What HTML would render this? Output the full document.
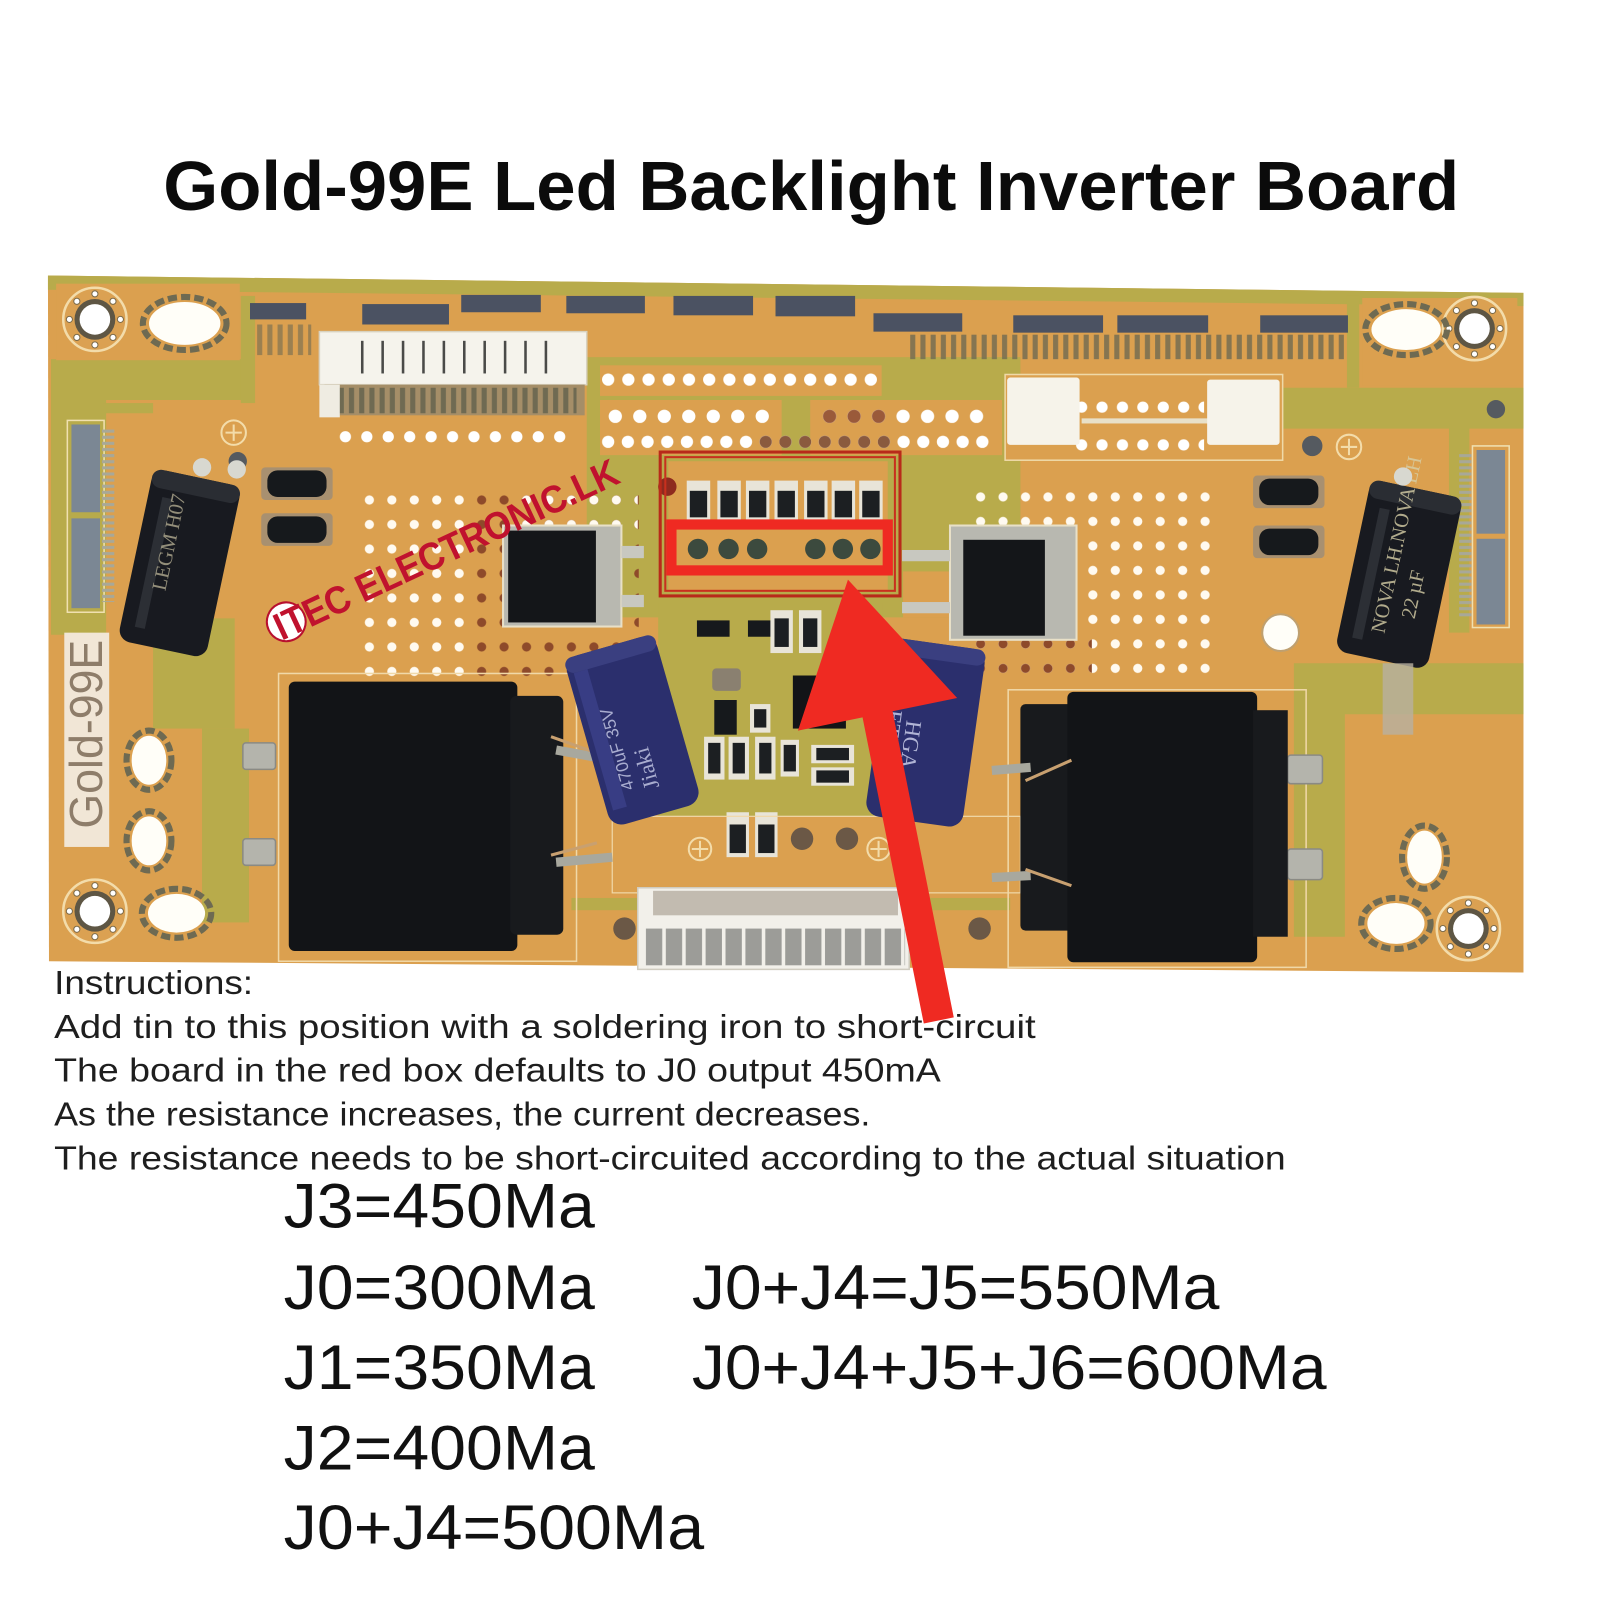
<!DOCTYPE html>
<html><head><meta charset="utf-8"><style>html,body{margin:0;padding:0;background:#fff}svg{display:block}</style></head>
<body>
<svg xmlns="http://www.w3.org/2000/svg" width="1600" height="1600" viewBox="0 0 1568 1568">
<defs>
 <pattern id="pw1" x="351" y="478" width="22" height="24" patternUnits="userSpaceOnUse"><circle cx="11" cy="12" r="4.5" fill="#fffaf0"/></pattern>
 <pattern id="pb1" x="351" y="478" width="22" height="24" patternUnits="userSpaceOnUse"><circle cx="11" cy="12" r="4.5" fill="#8e4a2a"/></pattern>
 <pattern id="pw2" x="950" y="475" width="22" height="24" patternUnits="userSpaceOnUse"><circle cx="11" cy="12" r="4.5" fill="#fffaf0"/></pattern>
 <pattern id="pb2" x="950" y="475" width="22" height="24" patternUnits="userSpaceOnUse"><circle cx="11" cy="12" r="4.5" fill="#8e4a2a"/></pattern>
 <pattern id="rowA" x="586.1" y="362" width="19.8" height="20" patternUnits="userSpaceOnUse"><circle cx="9.9" cy="10" r="6" fill="#fff"/></pattern>
 <pattern id="rowB1" x="591" y="396" width="24" height="24" patternUnits="userSpaceOnUse"><circle cx="12" cy="12" r="6.5" fill="#fff"/></pattern>
 <pattern id="rowB2" x="801" y="396" width="24" height="24" patternUnits="userSpaceOnUse"><circle cx="12" cy="12" r="6.5" fill="#fff"/></pattern>
 <pattern id="rowB2b" x="801" y="396" width="24" height="24" patternUnits="userSpaceOnUse"><circle cx="12" cy="12" r="6.5" fill="#9a5a3a"/></pattern>
 <pattern id="rowC" x="586.35" y="423" width="19.3" height="20" patternUnits="userSpaceOnUse"><circle cx="9.65" cy="10" r="6" fill="#fff"/></pattern>
 <pattern id="rowCb" x="586.35" y="423" width="19.3" height="20" patternUnits="userSpaceOnUse"><circle cx="9.65" cy="10" r="6" fill="#8a5a3e"/></pattern>
 <pattern id="rowD" x="1050" y="389" width="20" height="20" patternUnits="userSpaceOnUse"><circle cx="10" cy="10" r="5.5" fill="#fff"/></pattern>
 <pattern id="rowE" x="1050" y="426" width="20" height="20" patternUnits="userSpaceOnUse"><circle cx="10" cy="10" r="5.5" fill="#fff"/></pattern>
 <pattern id="rowF" x="328" y="418" width="21" height="20" patternUnits="userSpaceOnUse"><circle cx="10.5" cy="10" r="5.5" fill="#fff"/></pattern>
 <pattern id="pins" x="0" y="0" width="10" height="20" patternUnits="userSpaceOnUse"><rect x="2" y="0" width="5" height="20" fill="#6f6a52"/></pattern>
 <pattern id="cpins" x="632" y="0" width="19.5" height="40" patternUnits="userSpaceOnUse"><rect x="1" y="0" width="16" height="40" fill="#9c9c98"/></pattern>
 <pattern id="epins" x="0" y="0" width="10" height="6" patternUnits="userSpaceOnUse"><rect x="0" y="1" width="10" height="3" fill="#a8a898"/></pattern>
 <g id="ring">
  <circle r="31" fill="#dba152" stroke="#f3dcaa" stroke-width="2.5"/>
  <circle r="20" fill="#5e5644"/>
  <circle r="15" fill="#fff"/>
  <g fill="#fff" stroke="#7a6a4a" stroke-width="1">
   <circle cx="25" cy="0" r="3"/><circle cx="17.7" cy="17.7" r="3"/><circle cx="0" cy="25" r="3"/><circle cx="-17.7" cy="17.7" r="3"/>
   <circle cx="-25" cy="0" r="3"/><circle cx="-17.7" cy="-17.7" r="3"/><circle cx="0" cy="-25" r="3"/><circle cx="17.7" cy="-17.7" r="3"/>
  </g>
 </g>
</defs>

<rect width="1568" height="1568" fill="#fff"/>

<!-- Title -->
<text x="160" y="206" font-family="'Liberation Sans', sans-serif" font-weight="bold" font-size="68.5" textLength="1270" lengthAdjust="spacingAndGlyphs" fill="#0b0b0b">Gold-99E Led Backlight Inverter Board</text>

<!-- Board base -->
<polygon points="47,270 1493,287 1493,953 48,942" fill="#dba04f"/>
<!-- olive regions -->
<g fill="#b8ab4b">
 <polygon points="47,270 1493,287 1493,300 47,284"/>
 <path d="M50 352 H248 V392 H104 V622 H50 Z"/>
 <rect x="236" y="290" width="14" height="105"/>
 <rect x="575" y="350" width="425" height="255"/>
 <rect x="645" y="590" width="220" height="212"/>
 <rect x="150" y="606" width="80" height="108"/>
 <rect x="198" y="714" width="46" height="190"/>
 <path d="M1268 650 H1493 V700 H1318 V918 H1268 Z"/>
 <rect x="1320" y="290" width="12" height="90"/>
 <path d="M1240 380 H1493 V420 H1440 V620 H1420 V420 H1240 Z"/>
 <rect x="100" y="395" width="50" height="10"/>
 <rect x="560" y="880" width="80" height="12"/>
 <rect x="890" y="880" width="100" height="12"/>
</g>
<!-- orange blocks in center -->
<g fill="#dba04f">
 <rect x="588" y="358" width="276" height="30"/>
 <rect x="588" y="392" width="178" height="54"/>
 <rect x="794" y="392" width="188" height="54"/>
 <rect x="985" y="367" width="272" height="84"/>
 <rect x="655" y="452" width="215" height="128"/>
 <rect x="885" y="560" width="50" height="45"/>
 <rect x="600" y="800" width="400" height="75"/>
 <rect x="55" y="278" width="180" height="75"/>
 <rect x="1335" y="292" width="152" height="86"/>
</g>

<!-- top pads -->
<g fill="#4b5262">
 <rect x="245" y="297" width="55" height="16"/>
 <rect x="355" y="298" width="85" height="20"/>
 <rect x="452" y="289" width="78" height="17"/>
 <rect x="555" y="290" width="77" height="17"/>
 <rect x="660" y="290" width="78" height="19"/>
 <rect x="760" y="290" width="78" height="20"/>
 <rect x="856" y="307" width="87" height="18"/>
 <rect x="993" y="309" width="88" height="17"/>
 <rect x="1095" y="309" width="89" height="17"/>
 <rect x="1235" y="309" width="86" height="17"/>
</g>
<rect x="890" y="328" width="430" height="24" fill="url(#pins)" opacity=".8"/>
<rect x="250" y="318" width="55" height="30" fill="url(#pins)" opacity=".6"/>

<!-- top connector -->
<rect x="313" y="325" width="262" height="52" fill="#f5f3ec" stroke="#d8d2c0" stroke-width="1.5"/>
<g stroke="#4a4a48" stroke-width="2.5">
 <line x1="355" y1="334" x2="355" y2="366"/><line x1="375" y1="334" x2="375" y2="366"/><line x1="395" y1="334" x2="395" y2="366"/><line x1="415" y1="334" x2="415" y2="366"/><line x1="435" y1="334" x2="435" y2="366"/>
 <line x1="455" y1="334" x2="455" y2="366"/><line x1="475" y1="334" x2="475" y2="366"/><line x1="495" y1="334" x2="495" y2="366"/><line x1="515" y1="334" x2="515" y2="366"/><line x1="535" y1="334" x2="535" y2="366"/>
</g>
<rect x="318" y="377" width="255" height="30" fill="#a58e68"/>
<rect x="325" y="380" width="240" height="25" fill="url(#pins)"/>
<rect x="313" y="377" width="20" height="32" fill="#efece2"/>
<rect x="328" y="418" width="230" height="20" fill="url(#rowF)"/>

<!-- hole rows -->
<rect x="586" y="362" width="280" height="20" fill="url(#rowA)"/>
<rect x="591" y="396" width="168" height="24" fill="url(#rowB1)"/>
<rect x="801" y="396" width="168" height="24" fill="url(#rowB2)"/>
<rect x="801" y="396" width="72" height="24" fill="url(#rowB2b)"/>
<rect x="586" y="423" width="386" height="20" fill="url(#rowC)"/>
<rect x="740" y="423" width="135" height="20" fill="url(#rowCb)"/>

<!-- right white connectors -->
<rect x="985" y="367" width="272" height="84" fill="none" stroke="#efd9a8" stroke-width="1.5"/>
<rect x="1050" y="389" width="130" height="20" fill="url(#rowD)"/>
<rect x="1050" y="426" width="130" height="20" fill="url(#rowE)"/>
<rect x="1060" y="410" width="125" height="5" fill="#e8e0c8"/>
<rect x="987" y="370" width="71" height="66" rx="3" fill="#f6f3ea"/>
<rect x="1183" y="372" width="71" height="64" rx="3" fill="#f6f3ea"/>

<!-- mounting holes -->
<use href="#ring" x="93" y="313"/>
<use href="#ring" x="1445" y="322"/>
<use href="#ring" x="93" y="893"/>
<use href="#ring" x="1439" y="910"/>
<g fill="none" stroke="#6e6a52" stroke-width="6" stroke-dasharray="9 4">
 <ellipse cx="181" cy="317" rx="41" ry="26"/>
 <ellipse cx="1378" cy="323" rx="40" ry="25"/>
 <ellipse cx="173" cy="895" rx="34" ry="24"/>
 <ellipse cx="146" cy="745" rx="22" ry="29"/>
 <ellipse cx="146" cy="824" rx="22" ry="29"/>
 <ellipse cx="1368" cy="905" rx="34" ry="25"/>
 <ellipse cx="1396" cy="840" rx="22" ry="31"/>
</g>
<g fill="#fffef8">
 <ellipse cx="181" cy="317" rx="35" ry="21"/>
 <ellipse cx="1378" cy="323" rx="34" ry="20"/>
 <ellipse cx="173" cy="895" rx="28" ry="19"/>
 <ellipse cx="146" cy="745" rx="17" ry="24"/>
 <ellipse cx="146" cy="824" rx="17" ry="24"/>
 <ellipse cx="1368" cy="905" rx="28" ry="20"/>
 <ellipse cx="1396" cy="840" rx="17" ry="26"/>
 <circle cx="1255" cy="620" r="18"/>
</g>
<circle cx="1255" cy="620" r="18" fill="none" stroke="#bfa070" stroke-width="2"/>
<circle cx="1286" cy="437" r="10" fill="#555a60"/>
<circle cx="1466" cy="401" r="9" fill="#555a60"/>
<circle cx="233" cy="452" r="9" fill="#555a60"/>

<!-- edge connectors -->
<g>
 <rect x="66" y="412" width="36" height="188" fill="none" stroke="#f0e0b0" stroke-width="1.5"/>
 <rect x="70" y="416" width="28" height="86" fill="#7b8794"/>
 <rect x="70" y="508" width="28" height="88" fill="#7b8794"/>
 <rect x="100" y="420" width="12" height="170" fill="url(#epins)"/>
 <rect x="1443" y="437" width="36" height="178" fill="none" stroke="#f0e0b0" stroke-width="1.5"/>
 <rect x="1447" y="441" width="28" height="82" fill="#7b8794"/>
 <rect x="1447" y="528" width="28" height="84" fill="#7b8794"/>
 <rect x="1430" y="445" width="12" height="160" fill="url(#epins)"/>
</g>

<!-- dot grids -->
<rect x="351" y="478" width="110" height="192" fill="url(#pw1)"/>
<rect x="461" y="478" width="165" height="192" fill="url(#pb1)"/>
<rect x="505" y="478" width="120" height="48" fill="url(#pw1)"/>
<rect x="950" y="475" width="240" height="190" fill="url(#pw2)"/>
<rect x="950" y="620" width="120" height="45" fill="url(#pb2)"/>

<!-- small diodes -->
<g>
 <rect x="256" y="458" width="70" height="32" rx="4" fill="#a89070"/>
 <rect x="262" y="461" width="58" height="26" rx="10" fill="#16191c"/>
 <rect x="256" y="503" width="70" height="32" rx="4" fill="#a89070"/>
 <rect x="262" y="506" width="58" height="26" rx="10" fill="#16191c"/>
 <rect x="1228" y="466" width="70" height="32" rx="4" fill="#a89070"/>
 <rect x="1234" y="469" width="58" height="26" rx="10" fill="#16191c"/>
 <rect x="1228" y="515" width="70" height="32" rx="4" fill="#a89070"/>
 <rect x="1234" y="518" width="58" height="26" rx="10" fill="#16191c"/>
</g>
<circle cx="229" cy="424" r="12" fill="none" stroke="#f3dcaa" stroke-width="2"/>
<path d="M221 424 H237 M229 416 V432" stroke="#f3dcaa" stroke-width="2"/>
<circle cx="1322" cy="438" r="12" fill="none" stroke="#f3dcaa" stroke-width="2"/>
<path d="M1314 438 H1330 M1322 430 V446" stroke="#f3dcaa" stroke-width="2"/>

<!-- MOSFETs -->
<rect x="493" y="515" width="116" height="99" fill="#b8b8b0" stroke="#e8e0c8" stroke-width="2"/>
<rect x="498" y="520" width="86" height="90" fill="#141619"/>
<rect x="609" y="535" width="22" height="12" fill="#c8c8c0"/>
<rect x="609" y="583" width="22" height="12" fill="#c8c8c0"/>
<rect x="931" y="515" width="124" height="112" fill="#b8b8b0" stroke="#e8e0c8" stroke-width="2"/>
<rect x="944" y="529" width="80" height="94" fill="#141619"/>
<rect x="884" y="539" width="47" height="11" fill="#c8c8c0"/>
<rect x="884" y="590" width="47" height="11" fill="#c8c8c0"/>

<!-- red box components -->
<circle cx="654" cy="477" r="9" fill="#8e2a1e"/>
<g>
 <g fill="#e8e4d8">
  <rect x="673" y="471" width="23" height="40"/><rect x="703" y="471" width="23" height="40"/><rect x="731" y="471" width="23" height="40"/><rect x="759" y="471" width="23" height="40"/><rect x="788" y="471" width="23" height="40"/><rect x="815" y="471" width="23" height="40"/><rect x="842" y="471" width="23" height="40"/>
 </g>
 <g fill="#1c1f22">
  <rect x="676" y="481" width="17" height="26"/><rect x="706" y="481" width="17" height="26"/><rect x="734" y="481" width="17" height="26"/><rect x="762" y="481" width="17" height="26"/><rect x="791" y="481" width="17" height="26"/><rect x="818" y="481" width="17" height="26"/><rect x="845" y="481" width="17" height="26"/>
 </g>
 <g fill="#3c4a3e">
  <circle cx="684" cy="538" r="10"/><circle cx="714" cy="538" r="10"/><circle cx="742" cy="538" r="10"/><circle cx="799" cy="538" r="10"/><circle cx="826" cy="538" r="10"/><circle cx="853" cy="538" r="10"/>
 </g>
</g>
<rect x="647" y="443" width="235" height="141" fill="none" stroke="#b82a1a" stroke-width="3"/>
<rect x="652" y="448" width="225" height="131" fill="none" stroke="#c8301e" stroke-width="2"/>
<rect x="658" y="514" width="212" height="45" fill="none" stroke="#ef2a22" stroke-width="10"/>

<!-- central small components -->
<g>
 <rect x="683" y="608" width="32" height="16" fill="#16191c"/>
 <rect x="733" y="608" width="32" height="16" fill="#16191c"/>
 <rect x="755" y="598" width="22" height="42" fill="#e8e4d8"/><rect x="759" y="606" width="14" height="28" fill="#1c1f22"/>
 <rect x="783" y="598" width="22" height="42" fill="#e8e4d8"/><rect x="787" y="606" width="14" height="28" fill="#1c1f22"/>
 <rect x="698" y="655" width="28" height="22" rx="4" fill="#8a8070"/>
 <rect x="700" y="686" width="22" height="34" fill="#16191c"/>
 <rect x="735" y="690" width="20" height="28" fill="#e8e4d8"/><rect x="739" y="695" width="12" height="18" fill="#1c1f22"/>
 <rect x="777" y="662" width="52" height="52" fill="#121417"/>
 <rect x="690" y="722" width="20" height="42" fill="#e8e4d8"/><rect x="694" y="728" width="12" height="30" fill="#1c1f22"/>
 <rect x="714" y="722" width="20" height="42" fill="#e8e4d8"/><rect x="718" y="728" width="12" height="30" fill="#1c1f22"/>
 <rect x="740" y="722" width="20" height="42" fill="#e8e4d8"/><rect x="744" y="728" width="12" height="30" fill="#1c1f22"/>
 <rect x="765" y="725" width="18" height="36" fill="#e8e4d8"/><rect x="768" y="730" width="12" height="26" fill="#1c1f22"/>
 <rect x="795" y="730" width="42" height="18" fill="#e8e4d8"/><rect x="800" y="733" width="32" height="12" fill="#1c1f22"/>
 <rect x="795" y="752" width="42" height="18" fill="#e8e4d8"/><rect x="800" y="755" width="32" height="12" fill="#1c1f22"/>
 <rect x="712" y="796" width="22" height="44" fill="#e8e4d8"/><rect x="715" y="808" width="16" height="28" fill="#1c1f22"/>
 <rect x="740" y="796" width="22" height="44" fill="#e8e4d8"/><rect x="743" y="808" width="16" height="28" fill="#1c1f22"/>
 <circle cx="786" cy="822" r="11" fill="#6b5846"/>
 <circle cx="830" cy="822" r="11" fill="#6b5846"/>
 <circle cx="686" cy="832" r="11" fill="none" stroke="#f3dcaa" stroke-width="2"/><path d="M678 832 H694 M686 824 V840" stroke="#f3dcaa" stroke-width="2"/>
 <circle cx="861" cy="832" r="11" fill="none" stroke="#f3dcaa" stroke-width="2"/><path d="M853 832 H869 M861 824 V840" stroke="#f3dcaa" stroke-width="2"/>
 <circle cx="612" cy="910" r="11" fill="#6b5846"/>
 <circle cx="960" cy="910" r="11" fill="#6b5846"/>
</g>

<!-- silkscreen outlines -->
<rect x="273" y="660" width="292" height="282" fill="none" stroke="#f0d8a8" stroke-width="1.5"/>
<rect x="988" y="676" width="292" height="272" fill="none" stroke="#f0d8a8" stroke-width="1.5"/>
<rect x="600" y="800" width="400" height="75" fill="none" stroke="#f0d8a8" stroke-width="1.2"/>

<!-- silver tabs -->
<g fill="#b4b4ac" stroke="#8a8a84" stroke-width="1.5">
 <rect x="238" y="728" width="32" height="26" rx="3"/>
 <rect x="238" y="822" width="32" height="26" rx="3"/>
 <rect x="1262" y="740" width="34" height="28" rx="3"/>
 <rect x="1262" y="832" width="34" height="30" rx="3"/>
</g>

<!-- transformers -->
<rect x="283" y="668" width="224" height="264" rx="6" fill="#121417"/>
<rect x="500" y="682" width="52" height="234" rx="6" fill="#181a1d"/>
<path d="M545 735 L600 745 M545 845 L600 840" stroke="#a8a89e" stroke-width="9"/>
<path d="M540 722 L585 738 M540 838 L585 826" stroke="#c8a070" stroke-width="3"/>
<rect x="1000" y="690" width="52" height="222" rx="5" fill="#181a1d"/>
<rect x="1046" y="678" width="186" height="265" rx="6" fill="#121417"/>
<rect x="1228" y="696" width="34" height="222" fill="#181a1d"/>
<path d="M972 755 L1010 752 M972 860 L1010 858" stroke="#a8a89e" stroke-width="9"/>
<path d="M1005 765 L1050 745 M1005 852 L1050 868" stroke="#c8a070" stroke-width="3"/>

<!-- bottom connector -->
<rect x="625" y="870" width="266" height="80" fill="#f2f0ea" stroke="#d0ccc0" stroke-width="1.5"/>
<rect x="640" y="873" width="240" height="24" fill="#9a9080" opacity=".55"/>
<rect x="632" y="910" width="255" height="36" fill="url(#cpins)"/>

<!-- black electrolytic caps -->
<g transform="translate(176,552) rotate(12)">
 <rect x="-44" y="-86" width="88" height="172" rx="12" fill="#181a20"/>
 <rect x="-44" y="-86" width="88" height="18" rx="9" fill="#2a2d33"/>
 <rect x="-30" y="-60" width="10" height="130" fill="#3a3d44" opacity=".6"/>
 <text transform="translate(-8,30) rotate(-90)" font-family="'Liberation Serif', serif" font-size="20" fill="#c8c0a0" opacity=".7">LEGM H07</text>
</g>
<circle cx="198" cy="458" r="9" fill="#d8d8d0"/>
<circle cx="232" cy="460" r="9" fill="#d8d8d0"/>
<g transform="translate(1371,563) rotate(12)">
 <rect x="-46" y="-86" width="92" height="172" rx="12" fill="#181a20"/>
 <rect x="-46" y="-86" width="92" height="18" rx="9" fill="#2a2d33"/>
 <rect x="-32" y="-60" width="10" height="130" fill="#3a3d44" opacity=".6"/>
 <text transform="translate(-2,60) rotate(-90)" font-family="'Liberation Serif', serif" font-size="20" fill="#d8d0a8" opacity=".8">NOVA LH.NOVA LH</text>
 <text transform="translate(24,40) rotate(-90)" font-family="'Liberation Serif', serif" font-size="20" fill="#d8d0a8" opacity=".8">22 µF</text>
</g>
<circle cx="1375" cy="467" r="9" fill="#d8d8d0"/>
<rect x="1355" y="650" width="30" height="70" fill="#b8b0a0" opacity=".8"/>

<!-- blue caps -->
<g transform="translate(620,716) rotate(-16)">
 <rect x="-46" y="-86" width="92" height="172" rx="14" fill="#2b2f6d"/>
 <rect x="-46" y="-86" width="92" height="16" rx="8" fill="#3a3f80"/>
 <rect x="-40" y="-70" width="14" height="140" fill="#4a50a0" opacity=".45"/>
 <text transform="translate(-14,55) rotate(-90)" font-family="'Liberation Sans', sans-serif" font-size="17" fill="#c8cce8" opacity=".8">470uF 35V</text>
 <text transform="translate(10,60) rotate(-90)" font-family="'Liberation Serif', serif" font-size="22" fill="#c8cce8" opacity=".8">Jiaki</text>
</g>
<g transform="translate(907,718) rotate(8)">
 <rect x="-48" y="-88" width="96" height="176" rx="14" fill="#2b2f6d"/>
 <rect x="-48" y="-88" width="96" height="16" rx="8" fill="#3a3f80"/>
 <text transform="translate(-20,-10) rotate(90)" font-family="'Liberation Serif', serif" font-size="22" fill="#c8cce8" opacity=".85">HGA</text>
 <text transform="translate(-40,-30) rotate(90)" font-family="'Liberation Serif', serif" font-size="22" fill="#c8cce8" opacity=".85">PETMO</text>
</g>

<!-- Gold-99E label -->
<rect x="63" y="620" width="44" height="210" fill="#f1e6d6"/>
<text transform="translate(100,812) rotate(-90)" font-family="'Liberation Sans', sans-serif" font-size="45" fill="#8e7d6a" textLength="185" lengthAdjust="spacingAndGlyphs">Gold-99E</text>

<!-- watermark -->
<g transform="translate(276,628) rotate(-25)">
 <circle cx="12" cy="-15" r="19" fill="#fff" stroke="#b8102e" stroke-width="2"/>
 <text x="0" y="0" font-family="'Liberation Sans', sans-serif" font-weight="bold" font-size="38" fill="#c0122e" textLength="368" lengthAdjust="spacingAndGlyphs">ITEC ELECTRONIC.LK</text>
</g>

<!-- Instructions -->
<g font-family="'Liberation Sans', sans-serif" font-size="33" fill="#1e1e1e">
 <text x="53" y="974" textLength="195" lengthAdjust="spacingAndGlyphs">Instructions:</text>
 <text x="53" y="1017" textLength="962" lengthAdjust="spacingAndGlyphs">Add tin to this position with a soldering iron to short-circuit</text>
 <text x="53" y="1060" textLength="869" lengthAdjust="spacingAndGlyphs">The board in the red box defaults to J0 output 450mA</text>
 <text x="53" y="1103" textLength="800" lengthAdjust="spacingAndGlyphs">As the resistance increases, the current decreases.</text>
 <text x="53" y="1146" textLength="1207" lengthAdjust="spacingAndGlyphs">The resistance needs to be short-circuited according to the actual situation</text>
</g>

<!-- red arrow -->
<polygon points="831,568 938,684 874.7,697 934.7,997 905.3,1003 845.3,703 782,716" fill="#ef2a22"/>

<!-- big text -->
<g font-family="'Liberation Sans', sans-serif" font-size="61.5" fill="#111">
 <text x="278" y="1203" textLength="305" lengthAdjust="spacingAndGlyphs">J3=450Ma</text>
 <text x="278" y="1283" textLength="305" lengthAdjust="spacingAndGlyphs">J0=300Ma</text>
 <text x="678" y="1283" textLength="517" lengthAdjust="spacingAndGlyphs">J0+J4=J5=550Ma</text>
 <text x="278" y="1361" textLength="305" lengthAdjust="spacingAndGlyphs">J1=350Ma</text>
 <text x="678" y="1361" textLength="622" lengthAdjust="spacingAndGlyphs">J0+J4+J5+J6=600Ma</text>
 <text x="278" y="1440" textLength="305" lengthAdjust="spacingAndGlyphs">J2=400Ma</text>
 <text x="278" y="1518" textLength="412" lengthAdjust="spacingAndGlyphs">J0+J4=500Ma</text>
</g>
</svg>
</body></html>
